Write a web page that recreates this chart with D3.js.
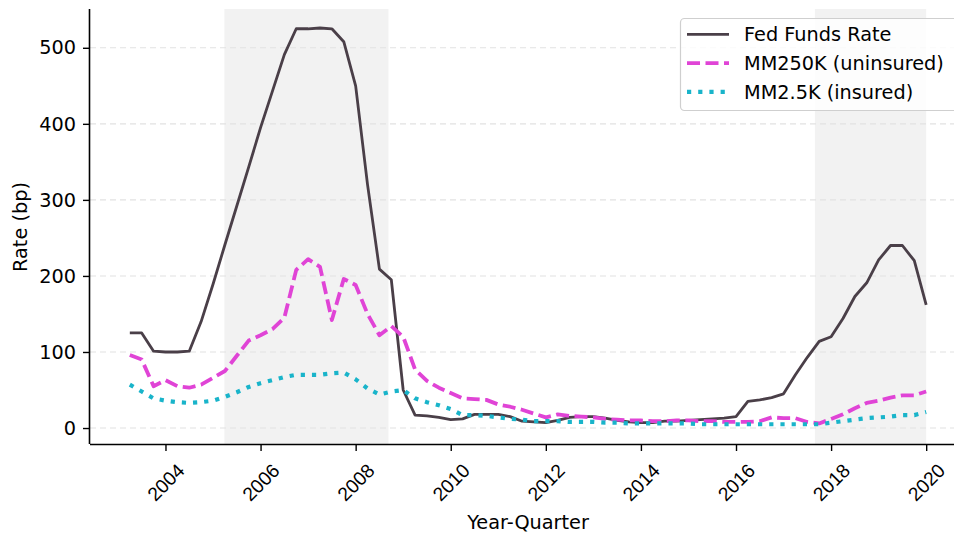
<!DOCTYPE html>
<html>
<head>
<meta charset="utf-8">
<script src="https://cdn.jsdelivr.net/npm/d3@7"></script>
<style>
  body { margin: 0; background: #fff; }
  svg { font-family: "DejaVu Sans", sans-serif; display: block; }
</style>
</head>
<body>
<svg id="chart" width="954" height="535"></svg>
<script>
// quarters 2003Q2 .. 2020Q1
const quarters = [];
for (let yr = 2003; yr <= 2020; yr++) {
    for (let q = 1; q <= 4; q++) {
        if ((yr === 2003 && q < 2) || (yr === 2020 && q > 1)) continue;
        quarters.push(yr + 'Q' + q);
    }
}

const fedFunds = [
    125, 125, 101,
    100, 100, 101, 140,
    189, 241, 292, 343,
    395, 443, 491, 525,
    525, 526, 525, 508,
    450, 320, 209, 195,
    50, 17, 16, 14,
    11, 12, 18, 18,
    18, 15, 9, 8,
    7, 10, 14, 15,
    15, 13, 10, 8,
    7, 7, 9, 9,
    10, 11, 12, 13,
    15, 35, 37, 40,
    45, 70, 93, 114,
    120, 144, 173, 191,
    221, 240, 240, 220,
    162
];

const mm250k = [
    96, 90, 55,
    63, 55, 53, 57,
    66, 75, 95, 115,
    122, 130, 145, 208,
    222, 212, 142, 196,
    188, 150, 122, 134,
    120, 77, 62, 53,
    46, 39, 38, 37,
    31, 28, 24, 19,
    14, 18, 16, 15,
    14, 12, 11, 10,
    10, 9, 9, 10,
    10, 9, 9, 8,
    8, 8, 9, 14,
    13, 13, 8, 6,
    12, 18, 26, 33,
    36, 40, 43, 43,
    48
];

const mm25k = [
    57, 48, 39,
    36, 34, 33, 34,
    36, 41, 47, 54,
    59, 63, 67, 70,
    70, 70, 72, 73,
    64, 52, 44, 48,
    50, 39, 34, 30,
    25, 17, 17, 16,
    14, 12, 11, 9,
    9, 9, 8, 8,
    8, 7, 7, 6,
    6, 6, 6, 6,
    6, 5, 5, 5,
    5, 5, 5, 5,
    5, 5, 5, 5,
    7, 9, 11, 13,
    14, 15, 17, 17,
    21
];

const shaded = [[2005.24, 2008.69], [2017.66, 2020.0]];
const xTicks = [2004, 2006, 2008, 2010, 2012, 2014, 2016, 2018, 2020];
const yTicks = [0, 100, 200, 300, 400, 500];

const series = [
    {name: 'Fed Funds Rate', values: fedFunds, color: '#4a3f48', width: 2.8, dash: null},
    {name: 'MM250K (uninsured)', values: mm250k, color: '#e044d6', width: 3.8, dash: '13,5.5'},
    {name: 'MM2.5K (insured)', values: mm25k, color: '#19b4ca', width: 4.2, dash: '4.2,7'}
];

const toYear = s => +s.slice(0, 4) + (+s.slice(5) - 1) / 4;
const xs = quarters.map(toYear);

const pLeft = 90, pRight = 966, pTop = 9, pBottom = 444;
const x = d3.scaleLinear().domain([2002.4125, 2020.8375]).range([pLeft, pRight]);
const y = d3.scaleLinear().domain([-21, 551]).range([pBottom, pTop]);

const svg = d3.select('#chart');
const fs = 19.3;

// shaded periods
svg.append('g').selectAll('rect')
    .data(shaded)
    .join('rect')
    .attr('x', d => x(d[0]))
    .attr('width', d => x(d[1]) - x(d[0]))
    .attr('y', pTop)
    .attr('height', pBottom - pTop)
    .attr('fill', '#f2f2f2');

// grid
svg.append('g').selectAll('line')
    .data(yTicks)
    .join('line')
    .attr('x1', pLeft).attr('x2', 954)
    .attr('y1', d => y(d)).attr('y2', d => y(d))
    .attr('stroke', '#e2e2e2')
    .attr('stroke-width', 1.1)
    .attr('stroke-dasharray', '6,4');

// lines
const line = vals => d3.line()
    .x((d, i) => x(xs[i]))
    .y(d => y(d))(vals);

svg.append('g').selectAll('path')
    .data(series)
    .join('path')
    .attr('d', d => line(d.values))
    .attr('fill', 'none')
    .attr('stroke', d => d.color)
    .attr('stroke-width', d => d.width)
    .attr('stroke-dasharray', d => d.dash)
    .attr('stroke-linejoin', 'round');

// axes
const xAxis = svg.append('g').attr('transform', `translate(0,${pBottom})`)
    .call(d3.axisBottom(x).tickValues(xTicks).tickSize(7).tickFormat(''));
xAxis.select('.domain').attr('stroke-width', 1.6).attr('d', `M${pLeft},0.5H954`);
xAxis.selectAll('.tick line').attr('stroke-width', 1.4);
xAxis.selectAll('.tick').append('text')
    .attr('fill', '#000')
    .attr('font-size', fs)
    .attr('text-anchor', 'middle')
    .attr('dominant-baseline', 'central')
    .attr('transform', 'translate(0,38.5) rotate(-45)')
    .text(d => d);

const yAxis = svg.append('g').attr('transform', `translate(${pLeft},0)`)
    .call(d3.axisLeft(y).tickValues(yTicks).tickSize(7).tickPadding(7));
yAxis.select('.domain').attr('stroke-width', 1.6).attr('d', `M-0.5,${pTop}V${pBottom}`);
yAxis.selectAll('.tick line').attr('stroke-width', 1.4);
yAxis.selectAll('.tick text').attr('font-size', fs).attr('font-family', 'DejaVu Sans').attr('fill', '#000');

svg.append('text')
    .attr('x', 528).attr('y', 529)
    .attr('text-anchor', 'middle')
    .attr('font-size', fs)
    .text('Year-Quarter');

svg.append('text')
    .attr('transform', 'translate(26.5,227) rotate(-90)')
    .attr('text-anchor', 'middle')
    .attr('font-size', fs)
    .text('Rate (bp)');

// legend
const lg = svg.append('g');
lg.append('rect')
    .attr('x', 680.5).attr('y', 18.5)
    .attr('width', 290).attr('height', 92)
    .attr('rx', 4)
    .attr('fill', 'rgba(255,255,255,0.8)')
    .attr('stroke', '#cfcfcf')
    .attr('stroke-width', 1.2);
const items = lg.selectAll('g.item')
    .data(series)
    .join('g')
    .attr('class', 'item')
    .attr('transform', (d, i) => `translate(0,${34.3 + i * 28.8})`);
items.append('line')
    .attr('x1', 687).attr('x2', 729)
    .attr('stroke', d => d.color)
    .attr('stroke-width', d => d.width)
    .attr('stroke-dasharray', d => d.dash);
items.append('text')
    .attr('x', 744)
    .attr('dy', '0.36em')
    .attr('font-size', fs)
    .text(d => d.name);
</script>
</body>
</html>
